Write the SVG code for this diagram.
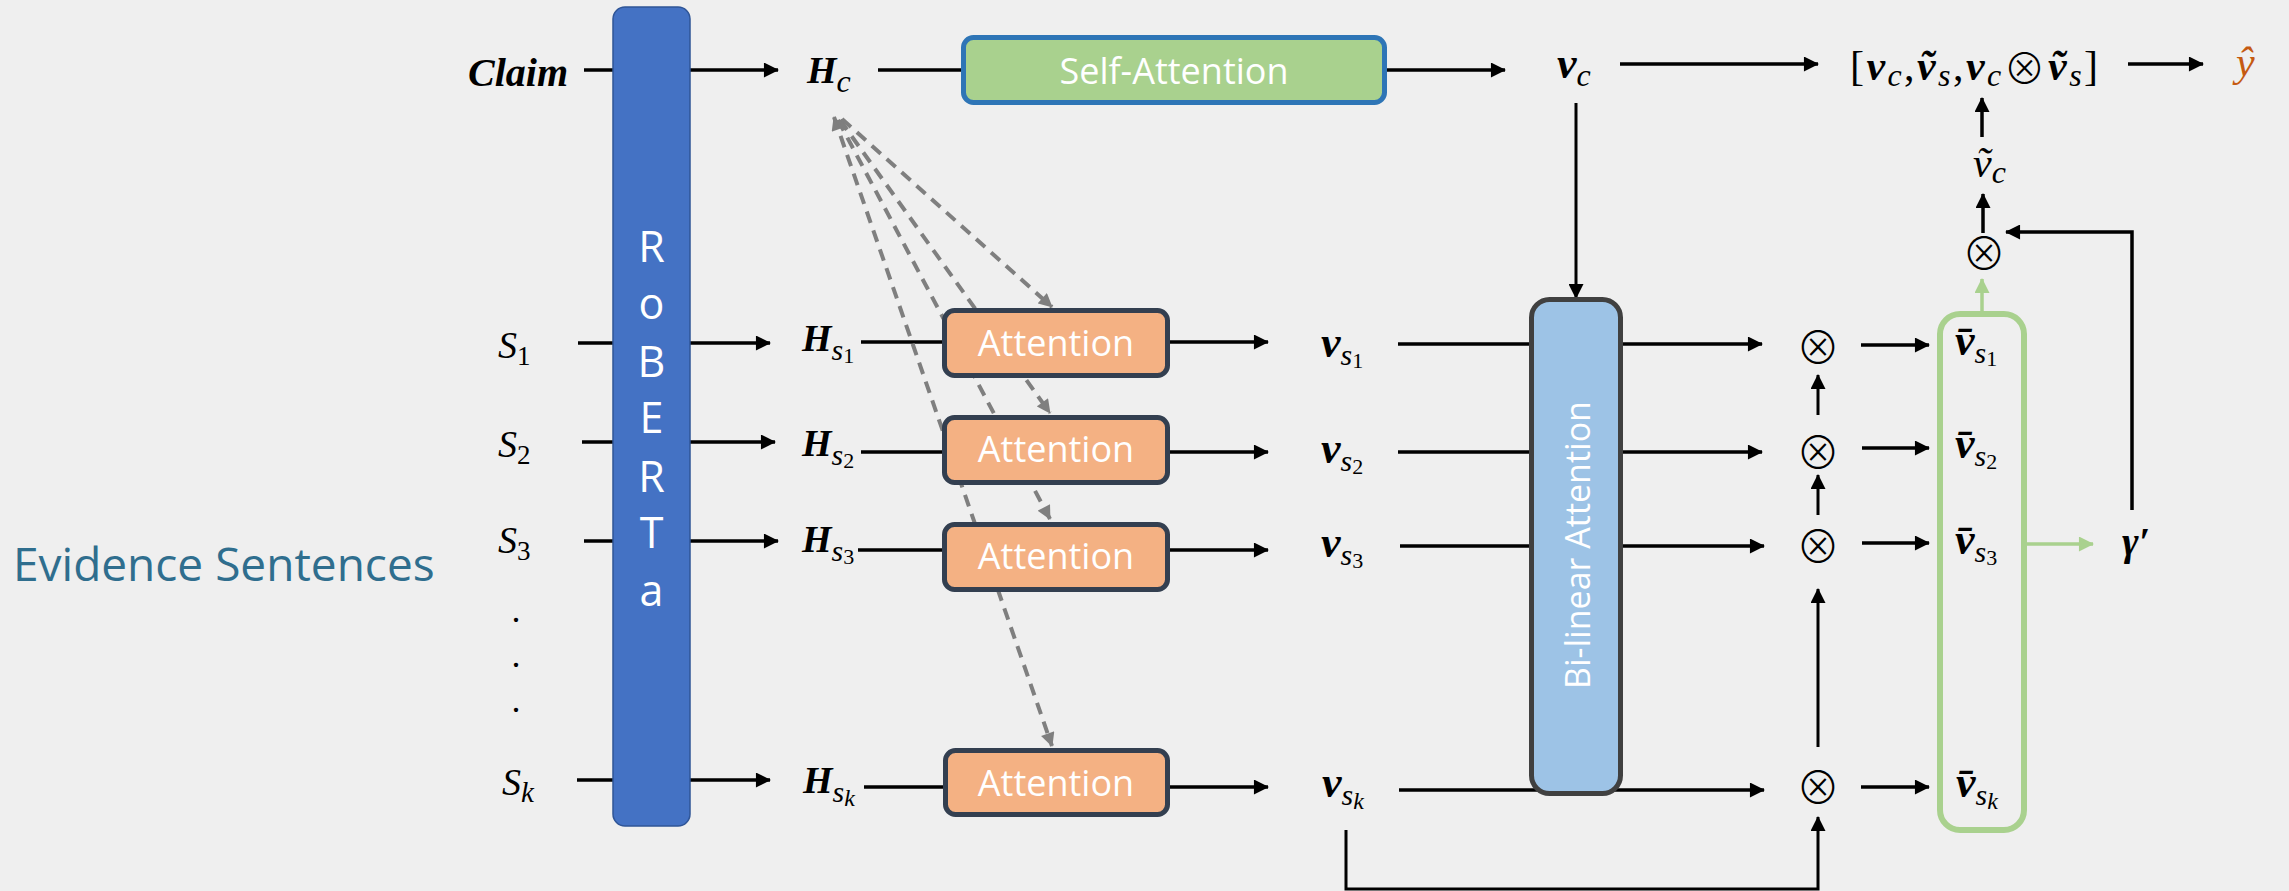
<svg xmlns="http://www.w3.org/2000/svg" width="2289" height="891" viewBox="0 0 2289 891">
<defs>
<style>
.ln{stroke:#000;stroke-width:3.5;fill:none}
.lt{stroke:#000;stroke-width:3;fill:none}
.dash{stroke:#7f7f7f;stroke-width:4;fill:none;stroke-dasharray:12 8}
.gl{stroke:#a9d18e;stroke-width:3.5;fill:none}
.m{font-family:"Liberation Serif","DejaVu Serif",serif;font-style:italic}
.b{font-weight:bold}
.n{font-style:normal;font-weight:normal}
.op{font-family:"Noto Sans CJK JP","DejaVu Sans",sans-serif;font-style:normal;font-weight:300}
.lab{font-family:"Open Sans","Noto Sans",sans-serif;font-weight:normal;fill:#fff}
.att{fill:#f4b183;stroke:#333f50;stroke-width:5}
</style>
<marker id="a" viewBox="0 0 16 16" markerWidth="16" markerHeight="15" refX="15" refY="8" orient="auto" markerUnits="userSpaceOnUse"><path d="M0,0L16,8L0,16z" fill="#000"/></marker>
<marker id="ag" viewBox="0 0 16 16" markerWidth="16" markerHeight="15" refX="15" refY="8" orient="auto" markerUnits="userSpaceOnUse"><path d="M0,0L16,8L0,16z" fill="#a9d18e"/></marker>
<marker id="ad" viewBox="0 0 16 16" markerWidth="15" markerHeight="14" refX="15" refY="8" orient="auto-start-reverse" markerUnits="userSpaceOnUse"><path d="M0,0L16,8L0,16z" fill="#7f7f7f"/></marker>
</defs>
<rect width="2289" height="891" fill="#efefef"/>

<g id="connectors">
<path class="ln" d="M584,70H778" marker-end="url(#a)"/>
<path class="ln" d="M578,343H770" marker-end="url(#a)"/>
<path class="ln" d="M582,442H775" marker-end="url(#a)"/>
<path class="ln" d="M584,541H778" marker-end="url(#a)"/>
<path class="ln" d="M577,780H770" marker-end="url(#a)"/>
<path class="ln" d="M878,70H961"/>
<path class="ln" d="M1387,70H1505" marker-end="url(#a)"/>
<path class="ln" d="M861,342H942"/>
<path class="ln" d="M861,452H942"/>
<path class="ln" d="M858,550H942"/>
<path class="ln" d="M864,787H943"/>
<path class="ln" d="M1170,342H1268" marker-end="url(#a)"/>
<path class="ln" d="M1170,452H1268" marker-end="url(#a)"/>
<path class="ln" d="M1170,550H1268" marker-end="url(#a)"/>
<path class="ln" d="M1170,787H1268" marker-end="url(#a)"/>
<path class="ln" d="M1398,344H1762" marker-end="url(#a)"/>
<path class="ln" d="M1398,452H1762" marker-end="url(#a)"/>
<path class="ln" d="M1400,546H1764" marker-end="url(#a)"/>
<path class="ln" d="M1399,790H1764" marker-end="url(#a)"/>
<path class="ln" d="M1861,345H1929" marker-end="url(#a)"/>
<path class="ln" d="M1862,448H1929" marker-end="url(#a)"/>
<path class="ln" d="M1862,543H1929" marker-end="url(#a)"/>
<path class="ln" d="M1861,787H1929" marker-end="url(#a)"/>
<path class="lt" d="M1818,415V375" marker-end="url(#a)"/>
<path class="lt" d="M1818,515V475" marker-end="url(#a)"/>
<path class="lt" d="M1818,747V589" marker-end="url(#a)"/>
<path class="lt" d="M1576,103V298" marker-end="url(#a)"/>
<path class="ln" d="M1620,64H1818" marker-end="url(#a)"/>
<path class="ln" d="M2128,64H2203" marker-end="url(#a)"/>
<path class="ln" d="M1982,137V98" marker-end="url(#a)"/>
<path class="ln" d="M1983,233V194" marker-end="url(#a)"/>
<path class="ln" d="M2132,510V232H2006" marker-end="url(#a)"/>
<path class="gl" d="M1982,311V279" marker-end="url(#ag)"/>
<path class="gl" d="M2027,544H2093" marker-end="url(#ag)"/>
<path class="lt" d="M1346,830V889H1818V817" marker-end="url(#a)"/>
<path class="dash" d="M834,117L1052,746" marker-start="url(#ad)" marker-end="url(#ad)"/>
<path class="dash" d="M838,120L1050,519" marker-end="url(#ad)"/>
<path class="dash" d="M840,120L1050,413" marker-end="url(#ad)"/>
<path class="dash" d="M842,119L1052,307" marker-end="url(#ad)"/>
</g>

<g id="roberta">
<rect x="613" y="7" width="77" height="819" rx="12" fill="#4472c4" stroke="#2f5597" stroke-width="1.5"/>
<g class="lab" font-size="43" text-anchor="middle">
<text x="651.5" y="262">R</text><text x="651.5" y="319">o</text><text x="651.5" y="377">B</text><text x="651.5" y="433">E</text><text x="651.5" y="492">R</text><text x="651.5" y="548">T</text><text x="651.5" y="606">a</text>
</g>
</g>

<g id="self-attention">
<rect x="963.5" y="37.5" width="421" height="65" rx="10" fill="#a9d18e" stroke="#2e75b6" stroke-width="5"/>
<text class="lab" x="1174" y="84" font-size="36" text-anchor="middle">Self-Attention</text>
</g>

<g id="attention1"><rect class="att" x="944.5" y="310.5" width="223" height="65" rx="10"/><text class="lab" x="1056" y="356" font-size="36" text-anchor="middle">Attention</text></g>
<g id="attention2"><rect class="att" x="944.5" y="417.5" width="223" height="65" rx="10"/><text class="lab" x="1056" y="462" font-size="36" text-anchor="middle">Attention</text></g>
<g id="attention3"><rect class="att" x="944.5" y="524.5" width="223" height="65" rx="10"/><text class="lab" x="1056" y="569" font-size="36" text-anchor="middle">Attention</text></g>
<g id="attentionk"><rect class="att" x="945.5" y="750.5" width="222" height="64" rx="10"/><text class="lab" x="1056" y="796" font-size="36" text-anchor="middle">Attention</text></g>

<g id="bilinear">
<rect x="1531.5" y="299.5" width="89" height="494" rx="18" fill="#9dc3e6" stroke="#404040" stroke-width="5"/>
<text class="lab" transform="translate(1590,545) rotate(-90)" x="0" y="0" font-size="34" text-anchor="middle">Bi-linear Attention</text>
</g>

<g id="pool">
<rect x="1940" y="314" width="84" height="516" rx="20" fill="none" stroke="#a9d18e" stroke-width="6"/>
</g>

<g id="evidence"><text x="13" y="581" font-family="Open Sans, Noto Sans, sans-serif" font-size="46" fill="#2f6e8e">Evidence Sentences</text></g>

<g id="claim"><text class="m b" x="468" y="86" font-size="40">Claim</text></g>

<g id="inputs">
<text class="m" x="498" y="358" font-size="38">S<tspan class="n" font-size="27" dy="7">1</tspan></text>
<text class="m" x="498" y="457" font-size="38">S<tspan class="n" font-size="27" dy="7">2</tspan></text>
<text class="m" x="498" y="553" font-size="38">S<tspan class="n" font-size="27" dy="7">3</tspan></text>
<text class="m n" x="516" y="622" font-size="36" text-anchor="middle">.</text>
<text class="m n" x="516" y="667" font-size="36" text-anchor="middle">.</text>
<text class="m n" x="516" y="712" font-size="36" text-anchor="middle">.</text>
<text class="m" x="502" y="795" font-size="38">S<tspan font-size="29" dy="7">k</tspan></text>
</g>

<g id="hidden">
<text class="m b" x="807" y="83" font-size="38">H<tspan font-weight="normal" font-size="32" dy="9">c</tspan></text>
<text class="m b" x="802" y="351" font-size="38">H<tspan font-weight="normal" font-size="30" dy="9">s</tspan><tspan class="n" font-size="22" dy="3">1</tspan></text>
<text class="m b" x="802" y="456" font-size="38">H<tspan font-weight="normal" font-size="30" dy="9">s</tspan><tspan class="n" font-size="22" dy="3">2</tspan></text>
<text class="m b" x="802" y="552" font-size="38">H<tspan font-weight="normal" font-size="30" dy="9">s</tspan><tspan class="n" font-size="22" dy="3">3</tspan></text>
<text class="m b" x="803" y="793" font-size="38">H<tspan font-weight="normal" font-size="30" dy="9">s</tspan><tspan font-weight="normal" font-size="24" dy="4">k</tspan></text>
</g>

<g id="vectors">
<text class="m b" x="1557" y="78" font-size="44">v<tspan font-weight="normal" font-size="32" dy="8">c</tspan></text>
<text class="m b" x="1321" y="357" font-size="44">v<tspan font-weight="normal" font-size="30" dy="8">s</tspan><tspan class="n" font-size="22" dy="3">1</tspan></text>
<text class="m b" x="1321" y="463" font-size="44">v<tspan font-weight="normal" font-size="30" dy="8">s</tspan><tspan class="n" font-size="22" dy="3">2</tspan></text>
<text class="m b" x="1321" y="557" font-size="44">v<tspan font-weight="normal" font-size="30" dy="8">s</tspan><tspan class="n" font-size="22" dy="3">3</tspan></text>
<text class="m b" x="1322" y="797" font-size="44">v<tspan font-weight="normal" font-size="30" dy="8">s</tspan><tspan font-weight="normal" font-size="24" dy="4">k</tspan></text>
</g>

<g id="products" class="op" font-size="44" text-anchor="middle">
<text x="1818" y="364">⊗</text>
<text x="1818" y="469">⊗</text>
<text x="1818" y="563">⊗</text>
<text x="1818" y="804">⊗</text>
<text x="1984" y="270">⊗</text>
</g>

<g id="pooled">
<text class="m b" x="1955" y="355" font-size="44">v̄<tspan font-weight="normal" font-size="30" dy="8">s</tspan><tspan class="n" font-size="22" dy="3">1</tspan></text>
<text class="m b" x="1955" y="458" font-size="44">v̄<tspan font-weight="normal" font-size="30" dy="8">s</tspan><tspan class="n" font-size="22" dy="3">2</tspan></text>
<text class="m b" x="1955" y="554" font-size="44">v̄<tspan font-weight="normal" font-size="30" dy="8">s</tspan><tspan class="n" font-size="22" dy="3">3</tspan></text>
<text class="m b" x="1956" y="797" font-size="44">v̄<tspan font-weight="normal" font-size="30" dy="8">s</tspan><tspan font-weight="normal" font-size="24" dy="4">k</tspan></text>
</g>

<g id="gamma"><text class="m b" x="2122" y="555" font-size="40">γ′</text></g>
<g id="vc-tilde"><text class="m" x="1973" y="177" font-size="42">ṽ<tspan font-size="32" dy="6">c</tspan></text></g>
<g id="concat"><text class="m" x="1850" y="80" font-size="42" textLength="248" lengthAdjust="spacing"><tspan class="n">[</tspan><tspan class="b">v</tspan><tspan font-size="32" dy="6">c</tspan><tspan class="n" dy="-6">,</tspan><tspan class="b">ṽ</tspan><tspan font-size="32" dy="6">s</tspan><tspan class="n" dy="-6">,</tspan><tspan class="b">v</tspan><tspan font-size="32" dy="6">c</tspan><tspan class="op" font-size="42" dy="-2">⊗</tspan><tspan class="b" dy="-4">ṽ</tspan><tspan font-size="32" dy="6">s</tspan><tspan class="n" dy="-6">]</tspan></text></g>
<g id="yhat"><text class="m" x="2236" y="76" font-size="42" style="fill:#c55a11">ŷ</text></g>
</svg>
